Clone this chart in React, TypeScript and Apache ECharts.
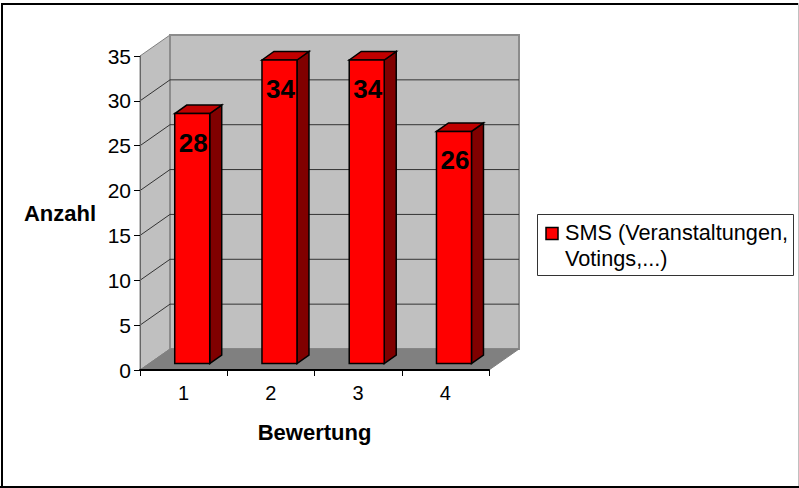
import React, { useEffect, useRef } from "react";
import * as echarts from "echarts";

const categories = ["1", "2", "3", "4"];
const seriesName = "SMS (Veranstaltungen, Votings,...)";
const values = [28, 34, 34, 26];
const yTicks = [0, 5, 10, 15, 20, 25, 30, 35];
const FONT = "'Liberation Sans', Arial, sans-serif";

const DEPTH_X = 30;
const DEPTH_Y = 21;
const BAR_W = 35;
const BAR_SHIFT_X = 8.6;
const BAR_SHIFT_Y = 6.5;
const BAR_DX = 12;
const BAR_DY = 8.5;
const BAR_SCALE = 0.995;

function renderWalls(params: any, api: any) {
  const g = params.coordSys;
  const L = g.x, R = g.x + g.width, T = g.y, B = g.y + g.height;
  const children: any[] = [
    {
      type: "polygon",
      shape: { points: [[L, T], [L + DEPTH_X, T - DEPTH_Y], [L + DEPTH_X, B - DEPTH_Y], [L, B]] },
      style: { fill: "#c0c0c0", stroke: "#808080", lineWidth: 1 },
    },
    {
      type: "rect",
      shape: { x: L + DEPTH_X, y: T - DEPTH_Y, width: g.width, height: g.height },
      style: { fill: "#c0c0c0", stroke: "#8c8c8c", lineWidth: 2 },
    },
    {
      type: "polygon",
      shape: { points: [[L, B], [L + DEPTH_X, B - DEPTH_Y], [R + DEPTH_X, B - DEPTH_Y], [R, B]] },
      style: { fill: "#808080", stroke: "#808080", lineWidth: 1 },
    },
  ];
  yTicks.forEach((t) => {
    if (t === 0 || t === 35) return;
    const y = api.coord([0, t])[1];
    children.push({
      type: "polyline",
      shape: { points: [[L, y], [L + DEPTH_X, y - DEPTH_Y], [R + DEPTH_X, y - DEPTH_Y]] },
      style: { fill: "none", stroke: "#333333", lineWidth: 1 },
    });
  });
  return { type: "group", children };
}

function renderBar(_params: any, api: any) {
  const c = api.coord([api.value(0), api.value(1)]);
  const base = api.coord([api.value(0), 0]);
  const x0 = c[0] + BAR_SHIFT_X - BAR_W / 2;
  const x1 = x0 + BAR_W;
  const yBot = base[1] - BAR_SHIFT_Y;
  const yTop = yBot - (base[1] - c[1]) * BAR_SCALE;
  const edge = { stroke: "#000000", lineWidth: 1.5, lineJoin: "miter" };
  return {
    type: "group",
    children: [
      {
        type: "polygon",
        shape: { points: [[x1, yTop], [x1 + BAR_DX, yTop - BAR_DY], [x1 + BAR_DX, yBot - BAR_DY], [x1, yBot]] },
        style: { fill: "#800000", ...edge },
      },
      {
        type: "polygon",
        shape: { points: [[x0, yTop], [x0 + BAR_DX, yTop - BAR_DY], [x1 + BAR_DX, yTop - BAR_DY], [x1, yTop]] },
        style: { fill: "#c00000", ...edge },
      },
      {
        type: "rect",
        shape: { x: x0, y: yTop, width: BAR_W, height: yBot - yTop },
        style: { fill: "#ff0000", ...edge },
      },
      {
        type: "text",
        style: {
          x: (x0 + x1) / 2 + 1,
          y: yTop + 29,
          text: String(api.value(1)),
          fill: "#000000",
          font: `bold 26px ${FONT}`,
          align: "center",
          verticalAlign: "middle",
        },
      },
    ],
  };
}

export default function App() {
  const ref = useRef<HTMLDivElement>(null);
  useEffect(() => {
    const chart = echarts.init(ref.current!, null, { renderer: "svg" });
    chart.setOption({
      animation: false,
      backgroundColor: "#ffffff",
      textStyle: { fontFamily: FONT },
      grid: { left: 140, right: 310, top: 56, bottom: 118, containLabel: false, outerBoundsMode: "none" },
      xAxis: {
        type: "category",
        data: categories,
        z: 3,
        name: "Bewertung",
        nameLocation: "middle",
        nameGap: 51,
        nameTextStyle: { fontFamily: FONT, fontSize: 22, fontWeight: "bold", color: "#000" },
        axisLine: { show: true, lineStyle: { color: "#000", width: 2 } },
        axisTick: { show: true, length: 6, lineStyle: { color: "#000", width: 1 } },
        axisLabel: { fontFamily: FONT, fontSize: 20, color: "#000", margin: 13 },
        splitLine: { show: false },
      },
      yAxis: {
        type: "value",
        min: 0,
        max: 35,
        interval: 5,
        z: 3,
        name: "Anzahl",
        nameLocation: "middle",
        nameRotate: 0,
        nameGap: 44,
        nameTextStyle: { fontFamily: FONT, fontSize: 22, fontWeight: "bold", color: "#000", padding: [0, 0, 0, 0] },
        axisLine: { show: true, lineStyle: { color: "#666", width: 1 } },
        axisTick: { show: true, length: 6, lineStyle: { color: "#000", width: 1 } },
        axisLabel: { fontFamily: FONT, fontSize: 21, color: "#000", margin: 9 },
        splitLine: { show: false },
      },
      series: [
        {
          type: "custom",
          name: "walls",
          silent: true,
          z: 1,
          renderItem: renderWalls,
          data: [[0, 0]],
          encode: { x: 0, y: 1 },
          clip: false,
        },
        {
          type: "custom",
          name: seriesName,
          z: 4,
          renderItem: renderBar,
          data: values.map((v, i) => [i, v]),
          encode: { x: 0, y: 1 },
          clip: false,
        },
      ],
      graphic: [
        { type: "line", shape: { x1: 2, y1: 4, x2: 798, y2: 4 }, style: { stroke: "#000", lineWidth: 2 } },
        { type: "line", shape: { x1: 2, y1: 3, x2: 2, y2: 488 }, style: { stroke: "#000", lineWidth: 2 } },
        { type: "line", shape: { x1: 0, y1: 487, x2: 799, y2: 487 }, style: { stroke: "#000", lineWidth: 2 } },
        { type: "line", shape: { x1: 798.5, y1: 3, x2: 798.5, y2: 486 }, style: { stroke: "#c0c0c0", lineWidth: 1 } },
        {
          type: "rect",
          shape: { x: 537.5, y: 214.5, width: 256, height: 61 },
          style: { fill: "#fff", stroke: "#333", lineWidth: 1 },
        },
        {
          type: "rect",
          shape: { x: 546, y: 227.5, width: 12, height: 12 },
          style: { fill: "#ff0000", stroke: "#000", lineWidth: 1.5 },
        },
        {
          type: "text",
          style: { x: 565, y: 232, text: "SMS (Veranstaltungen,", fill: "#000", font: `21.7px ${FONT}`, verticalAlign: "middle" },
        },
        {
          type: "text",
          style: { x: 565, y: 258, text: "Votings,...)", fill: "#000", font: `21.7px ${FONT}`, verticalAlign: "middle" },
        },
      ],
    });
    return () => chart.dispose();
  }, []);
  return <div ref={ref} style={{ position: "fixed", left: 0, top: 0, width: 799, height: 488 }} />;
}
